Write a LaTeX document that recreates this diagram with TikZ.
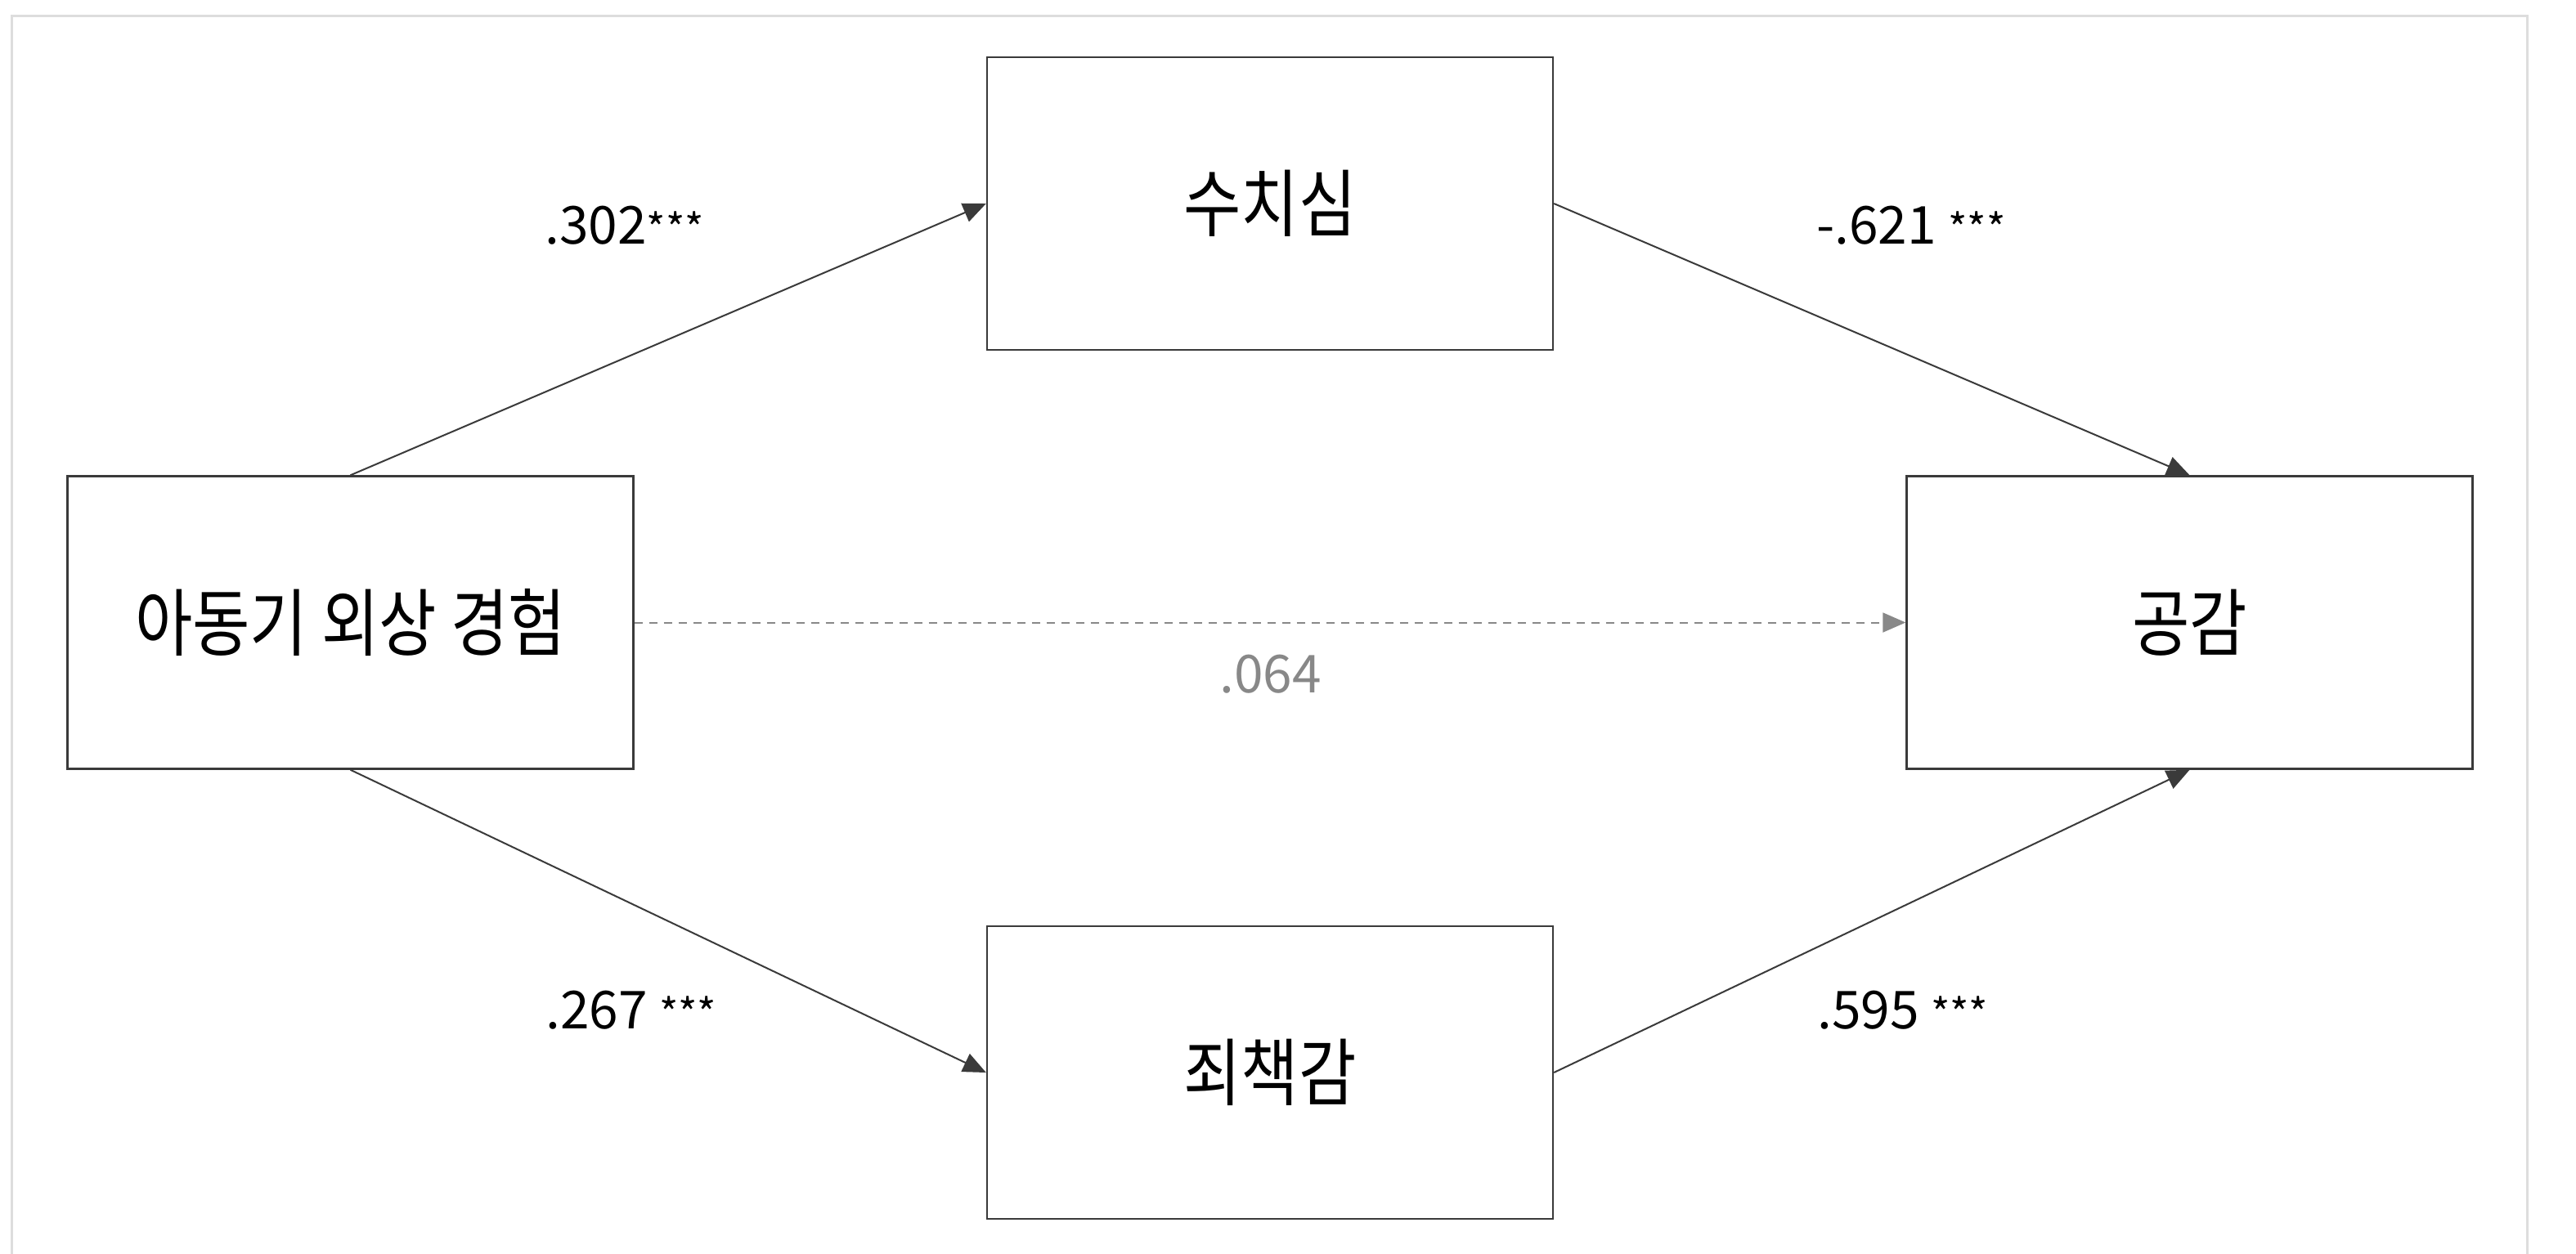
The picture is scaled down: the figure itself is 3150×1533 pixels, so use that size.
\documentclass[tikz,border=0pt]{standalone}
\usepackage{fontspec}
\usetikzlibrary{arrows.meta}
\newfontfamily\krfont[FakeStretch=0.85]{Noto Sans CJK KR}
\newfontfamily\numfont{Noto Sans CJK KR}
\newcommand\sigstars{{\fontsize{25}{30}\selectfont***}}
\definecolor{edgec}{HTML}{3A3A3A}
\definecolor{framec}{HTML}{DDDDDD}
\definecolor{dashc}{HTML}{888888}
\begin{document}
\begin{tikzpicture}[x=0.5pt,y=-0.5pt,
  box/.style={draw=edgec, line width=1.2pt, minimum width=346pt, minimum height=179pt, inner sep=0pt, font=\krfont\fontsize{45}{54}\selectfont},
  coef/.style={font=\numfont\fontsize{32}{38}\selectfont, anchor=base west, inner sep=0pt},
  arr/.style={draw=edgec, line width=1pt, -{Triangle[length=14pt,width=12pt]}}
  ]
\useasboundingbox (0,0) rectangle (3150,1533);
\draw[framec, line width=1.5pt] (14,1560) -- (14,19) -- (3090,19) -- (3090,1560);

\node[box] (A) at (428.5,761.5) {아동기 외상 경험};
\node[box] (B) at (1553,249) {수치심};
\node[box] (C) at (2677.5,761.5) {공감};
\node[box] (D) at (1553,1312) {죄책감};

\draw[arr] (A.north) -- (B.west);
\draw[arr] (B.east) -- (C.north);
\draw[arr] (A.south) -- (D.west);
\draw[arr] (D.east) -- (C.south);
\draw[arr, dashc, dash pattern=on 5pt off 4pt] (A.east) -- (C.west);

\node[coef] (l1) at (666,298) {.302\sigstars};
\node[coef] (l2) at (2221,298) {-.621 \sigstars};
\node[coef] (l3) at (667,1258) {.267 \sigstars};
\node[coef] (l4) at (2222,1258) {.595 \sigstars};
\node[coef, text=dashc] (l5) at (1491,847) {.064};
\end{tikzpicture}
\end{document}
